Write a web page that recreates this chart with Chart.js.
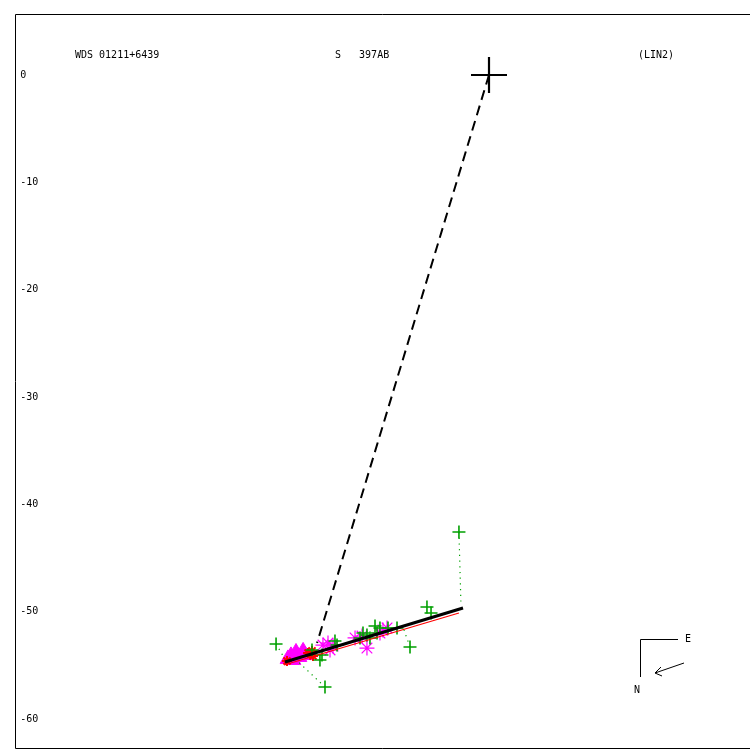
<!DOCTYPE html>
<html><head><meta charset="utf-8">
<script src="https://cdn.jsdelivr.net/npm/chart.js@4"></script>
<style>html,body{margin:0;padding:0;background:#fff;overflow:hidden}canvas{display:block}</style>
</head><body><canvas id="c" width="750" height="750"></canvas>
<script>
// ---- data (arcsec) ----
const titleLeft = "WDS 01211+6439";
const titleMid = "S   397AB";
const titleRight = "(LIN2)";
const yTicks = [0, -10, -20, -30, -40, -50, -60];
const primary = [[0, 0]];
const fitLine = [[-19.01, -54.69], [-2.42, -49.66]];
const redLine = [[-19.10, -54.97], [-2.80, -50.12]];
const dashLine = [[0, 0], [-16.02, -52.92]];
const greenPlus = [
  [-19.84, -53.01], [-15.28, -57.02], [-7.36, -53.29], [-5.78, -49.57], [-5.40, -50.12], [-2.80, -42.58],
  [-16.49, -53.57], [-15.56, -54.04], [-15.75, -54.50], [-14.16, -53.11], [-14.35, -52.73],
  [-12.02, -52.45], [-11.74, -51.99], [-11.37, -52.17], [-11.09, -52.45], [-10.43, -51.99],
  [-10.16, -51.52], [-10.62, -51.34], [-9.41, -51.52], [-8.57, -51.52]
];
const residualFrom = [[-2.80, -42.58], [-15.28, -57.02], [-7.36, -53.29], [-19.84, -53.01]];
const residualTo = [[-2.61, -49.47], [-18.07, -54.39], [-7.92, -51.71], [-19.20, -54.10]];
const magentaStars = [
  [-15.47, -53.11], [-15.00, -52.92], [-14.53, -53.20], [-14.81, -53.57], [-12.48, -52.45],
  [-11.37, -53.39], [-11.83, -52.27], [-9.88, -51.71], [-9.50, -51.52], [-10.16, -51.99]
];
const magentaTriangles = [
  [-18.45, -54.12], [-17.98, -53.80], [-17.32, -53.70], [-17.14, -54.04], [-17.70, -54.22],
  [-18.26, -54.50], [-18.73, -54.40]
];
const redStars = [[-16.49, -53.66], [-16.40, -54.13], [-16.86, -53.85], [-18.82, -54.60]];

// ---- view calibration (pixel placement of the plot frame) ----
const PX_PER_UNIT = (719 - 75) / 60;
const ORIGIN_PX = {x: 489, y: 75};

const pts = a => a.map(p => ({x: p[0], y: p[1]}));
const residualData = [];
residualFrom.forEach((p, i) => {
  residualData.push({x: p[0], y: p[1]}, {x: residualTo[i][0], y: residualTo[i][1]}, {x: NaN, y: NaN});
});

const FONT = '10px "DejaVu Sans Mono", "Liberation Mono", monospace';

const deco = {
  id: 'deco',
  afterDraw(chart) {
    const ctx = chart.ctx;
    ctx.save();
    ctx.strokeStyle = '#000';
    ctx.lineWidth = 1;
    ctx.beginPath();
    ctx.moveTo(750, 14.5); ctx.lineTo(15.5, 14.5); ctx.lineTo(15.5, 748.5); ctx.lineTo(750, 748.5);
    ctx.stroke();
    ctx.fillStyle = '#000';
    ctx.font = FONT;
    ctx.textBaseline = 'middle';
    ctx.textAlign = 'left';
    ctx.fillText(titleLeft, 75, 55);
    ctx.fillText(titleMid, 335, 55);
    ctx.fillText(titleRight, 638, 55);
    ctx.beginPath();
    ctx.moveTo(678, 639.5); ctx.lineTo(640.5, 639.5); ctx.lineTo(640.5, 677);
    ctx.stroke();
    ctx.fillText('E', 685, 639);
    ctx.fillText('N', 634, 690);
    ctx.beginPath();
    ctx.moveTo(684, 663); ctx.lineTo(655, 673);
    ctx.moveTo(655, 673); ctx.lineTo(661, 667);
    ctx.moveTo(655, 673); ctx.lineTo(662, 676);
    ctx.stroke();
    ctx.restore();
  }
};

const chart = new Chart(document.getElementById('c'), {
  type: 'scatter',
  data: {
    datasets: [
      {data: pts(magentaTriangles), pointStyle: 'triangle', pointRadius: 9, backgroundColor: '#ff00ff', borderColor: '#ff00ff', borderWidth: 1, order: 9},
      {data: pts(redStars), pointStyle: 'star', pointRadius: 5, borderColor: '#ff0000', borderWidth: 2, order: 8},
      {data: pts(magentaStars), pointStyle: 'star', pointRadius: 7.5, borderColor: '#ff00ff', borderWidth: 1.2, order: 7},
      {data: residualData, showLine: true, spanGaps: false, pointRadius: 0, borderColor: '#00a000', borderWidth: 1.2, borderDash: [1.2, 4.5], order: 6},
      {data: pts(greenPlus), pointStyle: 'cross', pointRadius: 6.5, borderColor: '#00a000', borderWidth: 1.6, order: 5},
      {data: pts(redLine), showLine: true, pointRadius: 0, borderColor: '#ff0000', borderWidth: 1.2, order: 4},
      {data: pts(fitLine), showLine: true, pointRadius: 0, borderColor: '#000', borderWidth: 3, order: 3},
      {data: pts(dashLine), showLine: true, pointRadius: 0, borderColor: '#000', borderWidth: 2, borderDash: [10, 6], order: 2},
      {data: pts(primary), pointStyle: 'cross', pointRadius: 18, borderColor: '#000', borderWidth: 2.2, order: 1}
    ]
  },
  options: {
    responsive: false,
    animation: false,
    events: [],
    layout: {padding: {left: 15, top: 14, right: 0, bottom: 2}},
    plugins: {legend: {display: false}, tooltip: {enabled: false}},
    scales: {
      x: {type: 'linear', min: -44.16, max: 24.32, display: false},
      y: {
        type: 'linear', position: 'left', min: -62.70, max: 5.683,
        grid: {display: false, drawTicks: false},
        border: {display: false},
        afterFit: s => { s.width = 0; },
        afterBuildTicks: s => { s.ticks = yTicks.map(v => ({value: v})); },
        ticks: {mirror: true, padding: 0, color: '#000', font: {family: '"DejaVu Sans Mono", "Liberation Mono", monospace', size: 10}, callback: v => String(v)}
      }
    }
  },
  plugins: [deco]
});

for (let i = 0; i < 3; i++) {
  const a = chart.chartArea;
  const o = chart.options.scales;
  o.y.max = (ORIGIN_PX.y - a.top) / PX_PER_UNIT;
  o.y.min = -(a.bottom - ORIGIN_PX.y) / PX_PER_UNIT;
  o.x.min = -(ORIGIN_PX.x - a.left) / PX_PER_UNIT;
  o.x.max = (a.right - ORIGIN_PX.x) / PX_PER_UNIT;
  chart.update('none');
}
</script></body></html>
